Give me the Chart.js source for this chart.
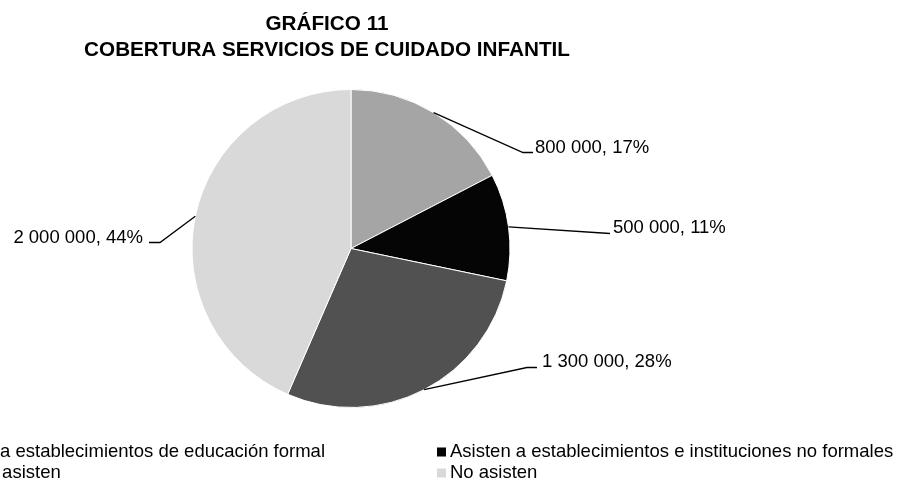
<!DOCTYPE html>
<html><head><meta charset="utf-8">
<script src="https://cdn.jsdelivr.net/npm/chart.js@4.4.0/dist/chart.umd.min.js"></script>
<style>html,body{margin:0;padding:0;background:#fff;overflow:hidden}#wrap{width:909px;height:480px;position:relative}</style>
</head><body><div id="wrap"><canvas id="c" width="909" height="480"></canvas></div>
<script>
// ---- data ----
const titleLines = ['GRÁFICO 11', 'COBERTURA SERVICIOS DE CUIDADO INFANTIL'];
const categories = [
  'Asisten a establecimientos de educación formal',
  'Asisten a establecimientos e instituciones no formales',
  'Apenas asisten',
  'No asisten'
];
const values = [800000, 500000, 1300000, 2000000];
const percentLabels = ['17%', '11%', '28%', '44%'];

// ---- styles / layout ----
const colors = ['#A5A5A5', '#050505', '#515151', '#D9D9D9'];
const FONT = '"Liberation Sans", Arial, sans-serif';
// leader-line elbow/end and text anchor, offsets from pie centre
const labelLayout = [
  { elbow: [172, -96], end: [182, -96], text: [184, -101], align: 'left' },
  { elbow: [259, -15], end: [259, -15], text: [262, -21], align: 'left' },
  { elbow: [176, 119], end: [186, 119], text: [191, 113], align: 'left' },
  { elbow: [-191, -6], end: [-202, -6], text: [-208, -11], align: 'right' }
];

function fmt(v) { return String(v).replace(/\B(?=(\d{3})+(?!\d))/g, ' '); }

const titlePlugin = {
  id: 'titleP',
  afterDraw(chart) {
    const ctx = chart.ctx;
    ctx.save();
    ctx.fillStyle = '#000';
    ctx.font = 'bold 20.7px ' + FONT;
    ctx.textAlign = 'center';
    ctx.textBaseline = 'middle';
    ctx.fillText(titleLines[0], 327, 24);
    ctx.fillText(titleLines[1], 327, 50);
    ctx.restore();
  }
};

const labelPlugin = {
  id: 'labelsP',
  afterDatasetsDraw(chart) {
    const ctx = chart.ctx;
    const meta = chart.getDatasetMeta(0);
    ctx.save();
    ctx.font = '18.5px ' + FONT;
    ctx.fillStyle = '#000';
    ctx.strokeStyle = '#000';
    ctx.lineWidth = 1.3;
    ctx.textBaseline = 'middle';
    meta.data.forEach((arc, i) => {
      const p = arc.getProps(['x', 'y', 'startAngle', 'endAngle', 'outerRadius'], true);
      const mid = (p.startAngle + p.endAngle) / 2;
      const sx = p.x + Math.cos(mid) * p.outerRadius;
      const sy = p.y + Math.sin(mid) * p.outerRadius;
      const L = labelLayout[i];
      ctx.beginPath();
      ctx.moveTo(sx, sy);
      ctx.lineTo(p.x + L.elbow[0], p.y + L.elbow[1]);
      ctx.lineTo(p.x + L.end[0], p.y + L.end[1]);
      ctx.stroke();
      ctx.textAlign = L.align;
      ctx.fillText(fmt(values[i]) + ', ' + percentLabels[i], p.x + L.text[0], p.y + L.text[1]);
    });
    ctx.restore();
  }
};

const legendPlugin = {
  id: 'legendP',
  afterDraw(chart) {
    const ctx = chart.ctx;
    ctx.save();
    ctx.font = '18.5px ' + FONT;
    ctx.textBaseline = 'middle';
    ctx.textAlign = 'left';
    const col2 = 450;
    const col1 = 325 - ctx.measureText(categories[0]).width;
    const rows = [452, 473];
    categories.forEach((c, i) => {
      const x = i % 2 === 0 ? col1 : col2;
      const y = rows[Math.floor(i / 2)];
      ctx.fillStyle = colors[i];
      ctx.fillRect(x - 13, y - 4.5, 9, 9);
      ctx.fillStyle = '#000';
      ctx.fillText(c, x, y);
    });
    ctx.restore();
  }
};

new Chart(document.getElementById('c'), {
  type: 'pie',
  data: {
    labels: categories,
    datasets: [{
      data: values,
      backgroundColor: colors,
      borderColor: '#FFFFFF',
      borderWidth: 1
    }]
  },
  options: {
    responsive: false,
    animation: false,
    devicePixelRatio: 1,
    layout: { padding: { top: 89, bottom: 72, left: 151, right: 358 } },
    plugins: {
      legend: { display: false },
      tooltip: { enabled: false },
      title: { display: false }
    }
  },
  plugins: [titlePlugin, labelPlugin, legendPlugin]
});
</script>
</body></html>
